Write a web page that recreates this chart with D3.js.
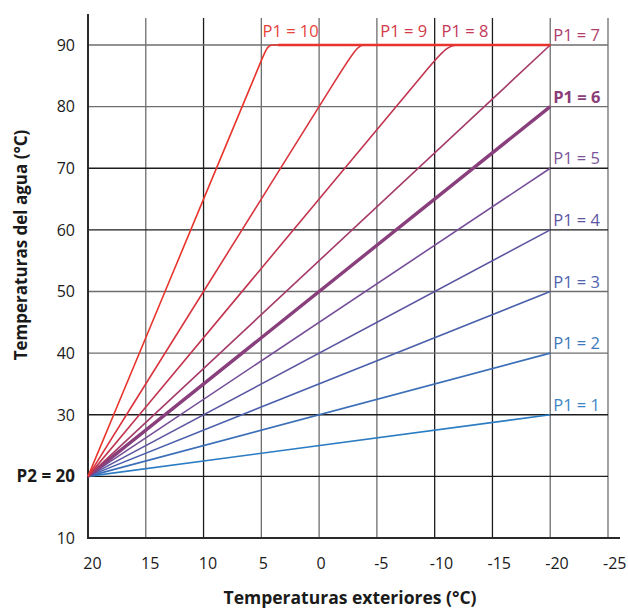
<!DOCTYPE html>
<html><head><meta charset="utf-8">
<script src="https://cdn.jsdelivr.net/npm/d3@7/dist/d3.min.js"></script>
<style>body{margin:0;background:#fff}svg{display:block}</style></head>
<body><svg id="c" width="628" height="610"></svg>
<script>
// ---- data ----
const xTicks = [20, 15, 10, 5, 0, -5, -10, -15, -20, -25];
const yTicks = [10, 20, 30, 40, 50, 60, 70, 80, 90];
const yTickLabels = ["10", "P2 = 20", "30", "40", "50", "60", "70", "80", "90"];
const p1Values = [1, 2, 3, 4, 5, 6, 7, 8, 9, 10];
const p1Labels = ["P1 = 1", "P1 = 2", "P1 = 3", "P1 = 4", "P1 = 5", "P1 = 6", "P1 = 7", "P1 = 8", "P1 = 9", "P1 = 10"];
// outdoor temperature (°C) of each curve control point
const curveOutdoor = [
  [20, -20], [20, -20], [20, -20], [20, -20], [20, -20], [20, -20], [20, -20],
  [20, -7.11, -9.11, -11.11, -12.1, -13.1, -20],
  [20, 1.07, -1.13, -3.33, -3.93, -4.53, -20],
  [20, 5.64, 5.04, 4.44, 3.99, 3.54, -20]
];
// water temperature (°C) of each curve control point
const curveWater = [
  [20, 30], [20, 40], [20, 50], [20, 60], [20, 70], [20, 80], [20, 90],
  [20, 81.0, 85.5, 90, 90, 90, 90],
  [20, 76.8, 83.4, 90, 90, 90, 90],
  [20, 84.6, 87.3, 90, 90, 90, 90]
];
const xTitle = "Temperaturas exteriores (°C)";
const yTitle = "Temperaturas del agua (°C)";

// ---- styles / layout ----
const lineColors = ["#2b7cc2", "#3a6fb8", "#4a5fab", "#5a55a1", "#754f98", "#883f7c", "#a53a68", "#c0354f", "#d9353f", "#e8342c"];
const labelColors = ["#3d86c6", "#3d78bc", "#4f63ae", "#5d56a2", "#7d5699", "#8a3d78", "#b03d6a", "#c43858", "#d33b49", "#e8443a"];
const topLabelX = [null, null, null, null, null, null, null, -10.6, -5.3, 4.9];
const darkV = new Set([10, -10, -15]);
const darkH = new Set([70, 60, 30, 20]);

const svg = d3.select("#c");
const x = d3.scaleLinear().domain([20, -25]).range([88, 608]);
const y = d3.scaleLinear().domain([10, 90]).range([538, 45]);
const font = "'Open Sans', sans-serif";

// grid
svg.append("g").selectAll("line").data(xTicks.slice(1)).join("line")
  .attr("x1", d => x(d)).attr("x2", d => x(d))
  .attr("y1", 18).attr("y2", y(10))
  .attr("stroke", d => darkV.has(d) ? "#1d1d1f" : "#6e6e70").attr("stroke-width", 1.3);
svg.append("g").selectAll("line").data(yTicks.slice(1)).join("line")
  .attr("x1", x(20)).attr("x2", x(-25))
  .attr("y1", d => y(d)).attr("y2", d => y(d))
  .attr("stroke", d => darkH.has(d) ? "#1d1d1f" : "#6e6e70").attr("stroke-width", 1.3);

// axes lines
svg.append("line").attr("x1", x(20)).attr("x2", x(20)).attr("y1", 14).attr("y2", y(10) + 1)
  .attr("stroke", "#2a2a2c").attr("stroke-width", 2);
svg.append("line").attr("x1", x(20) - 1).attr("x2", 620).attr("y1", y(10)).attr("y2", y(10))
  .attr("stroke", "#2a2a2c").attr("stroke-width", 2);

// tick labels
svg.append("g").selectAll("text").data(yTicks).join("text")
  .attr("x", 75).attr("y", d => y(d)).attr("dy", "0.36em")
  .attr("text-anchor", "end").attr("font-family", font)
  .attr("font-size", (d, i) => i === 1 ? 17 : 16)
  .attr("font-weight", (d, i) => i === 1 ? 700 : 400)
  .attr("fill", "#1a1a1a")
  .text((d, i) => yTickLabels[i]);
svg.append("g").selectAll("text").data(xTicks).join("text")
  .attr("x", d => x(d) + 2 + 2.4 * (String(d).length - 1)).attr("y", 569)
  .attr("text-anchor", "middle").attr("font-family", font).attr("font-size", 16)
  .attr("fill", "#1a1a1a")
  .text(d => String(d));

// curves
const line = d3.line().x(d => x(d[0])).y(d => y(d[1])).curve(d3.curveBasis);
p1Values.forEach((p, i) => {
  const pts = curveOutdoor[i].map((t, j) => [t, curveWater[i][j]]);
  svg.append("path").attr("d", line(pts)).attr("fill", "none")
    .attr("stroke", lineColors[i]).attr("stroke-width", p === 6 ? 3.4 : 1.6);
});
// flat top segment of P1 = 10
{
  const i = 9, n = curveOutdoor[i].length;
  svg.append("line")
    .attr("x1", x(curveOutdoor[i][n - 2])).attr("x2", x(curveOutdoor[i][n - 1]))
    .attr("y1", y(curveWater[i][n - 2])).attr("y2", y(curveWater[i][n - 1]))
    .attr("stroke", lineColors[i]).attr("stroke-width", 2.6);
}

// labels
p1Values.forEach((p, i) => {
  const n = curveOutdoor[i].length;
  const lx = topLabelX[i] !== null ? x(topLabelX[i]) : x(curveOutdoor[i][n - 1]) + 3;
  const ly = topLabelX[i] !== null ? y(90) - 8 : y(curveWater[i][n - 1]) - 4;
  svg.append("text").attr("x", lx).attr("y", ly)
    .attr("font-family", font).attr("font-size", 16.5)
    .attr("font-weight", p === 6 ? 700 : 400)
    .attr("fill", labelColors[i]).text(p1Labels[i]);
});

// titles
svg.append("text").attr("x", 350).attr("y", 604).attr("text-anchor", "middle")
  .attr("font-family", font).attr("font-weight", 700).attr("font-size", 17.5)
  .attr("fill", "#1a1a1a").text(xTitle);
svg.append("text").attr("transform", "translate(27,245) rotate(-90)").attr("text-anchor", "middle")
  .attr("font-family", font).attr("font-weight", 700).attr("font-size", 17)
  .attr("fill", "#1a1a1a").text(yTitle);
</script></body></html>
